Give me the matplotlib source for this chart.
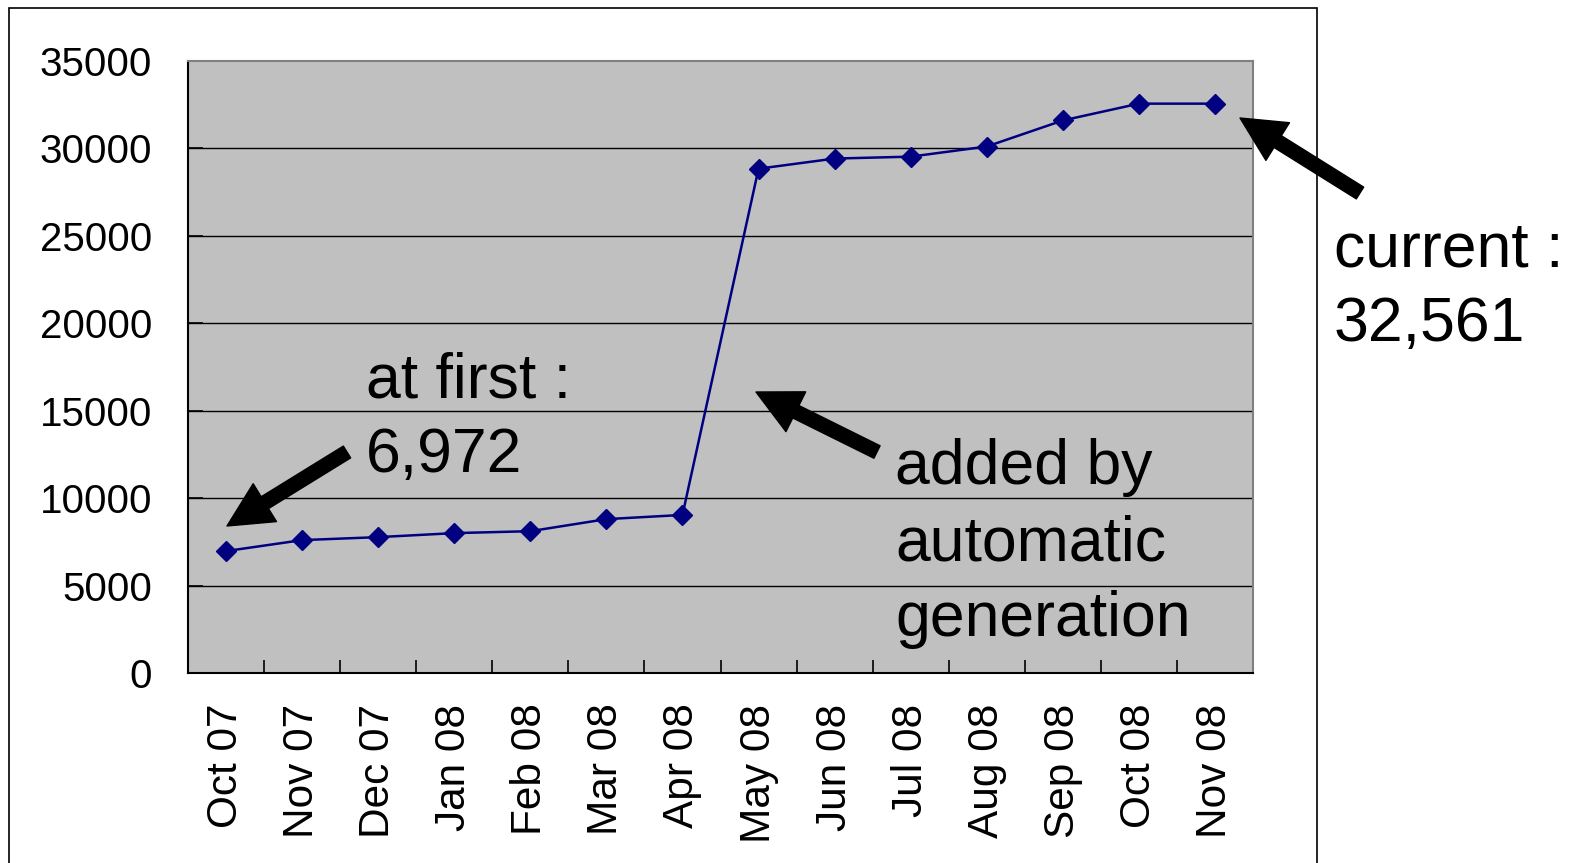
import matplotlib
matplotlib.use('Agg')
import matplotlib.pyplot as plt
from matplotlib.patches import Rectangle

plt.rcParams['font.family'] = ['Liberation Sans', 'DejaVu Sans']

months = ['Oct 07', 'Nov 07', 'Dec 07', 'Jan 08', 'Feb 08', 'Mar 08', 'Apr 08',
          'May 08', 'Jun 08', 'Jul 08', 'Aug 08', 'Sep 08', 'Oct 08', 'Nov 08']
counts = [6972, 7600, 7770, 8000, 8110, 8800, 9040,
          28840, 29420, 29530, 30110, 31600, 32561, 32561]
yticks = [0, 5000, 10000, 15000, 20000, 25000, 30000, 35000]

W, H = 1577, 863
fig = plt.figure(figsize=(W / 100, H / 100), dpi=100)
fig.patch.set_facecolor('white')

def fx(px):
    return px / W

def fy(py):
    return 1 - py / H

# outer frame
fig.patches.append(Rectangle((fx(9), -0.05), fx(1317) - fx(9), fy(8) + 0.05,
                             transform=fig.transFigure, fill=False,
                             edgecolor='black', lw=1.2))

ax = fig.add_axes([fx(188), fy(673), fx(1253) - fx(188), fy(61) - fy(673)])
ax.set_facecolor('#c0c0c0')

x = list(range(len(months)))
ax.plot(x, counts, color='#000080', lw=1.8, marker='D', ms=10,
        markerfacecolor='#000080', markeredgecolor='#000080', zorder=3)

ax.set_xlim(-0.5, len(months) - 0.5)
ax.set_ylim(0, 35000)

# y axis
ax.set_yticks(yticks)
ax.set_yticklabels([str(v) for v in yticks], fontsize=29)
ax.tick_params(axis='y', direction='in', length=11, width=1.2, pad=26, color='black')
for v in yticks[1:-1]:
    ax.axhline(v, color='black', lw=1.0, zorder=1)

# x axis: boundary ticks, labels at centres
ax.set_xticks([i + 0.5 for i in range(len(months) - 1)])
ax.set_xticklabels([])
ax.tick_params(axis='x', which='major', direction='in', length=9.5, width=1.2, color='black')
ax.set_xticks(x, minor=True)
ax.set_xticklabels(months, minor=True, rotation=90, fontsize=30.5)
ax.tick_params(axis='x', which='minor', length=0, pad=22)

for s in ['top', 'right']:
    ax.spines[s].set_color('#808080')
    ax.spines[s].set_linewidth(1.5)
for s in ['left', 'bottom']:
    ax.spines[s].set_color('black')
    ax.spines[s].set_linewidth(1.5)

# annotations
txt = dict(fontsize=45, color='black', transform=fig.transFigure, ha='left', va='baseline')
fig.text(fx(366), fy(397), 'at first :', **txt)
fig.text(fx(366), fy(472), '6,972', **txt)
fig.text(fx(895), fy(484), 'added by', **txt)
fig.text(fx(895), fy(560), 'automatic', **txt)
fig.text(fx(895), fy(636), 'generation', **txt)
fig.text(fx(1334), fy(266), 'current :', **txt)
fig.text(fx(1334), fy(341), '32,561', **txt)

arrow = dict(arrowstyle='simple,head_width=1.6,head_length=1.6,tail_width=0.5',
             color='black', shrinkA=0, shrinkB=0, mutation_scale=20)
for tail, tip in [((347, 452), (227, 526)),
                  ((877, 452), (756, 392)),
                  ((1360, 193), (1240, 118))]:
    ax.annotate('', xy=(fx(tip[0]), fy(tip[1])), xycoords='figure fraction',
                xytext=(fx(tail[0]), fy(tail[1])), textcoords='figure fraction',
                arrowprops=arrow, annotation_clip=False)

fig.savefig('out.png', dpi=100)
